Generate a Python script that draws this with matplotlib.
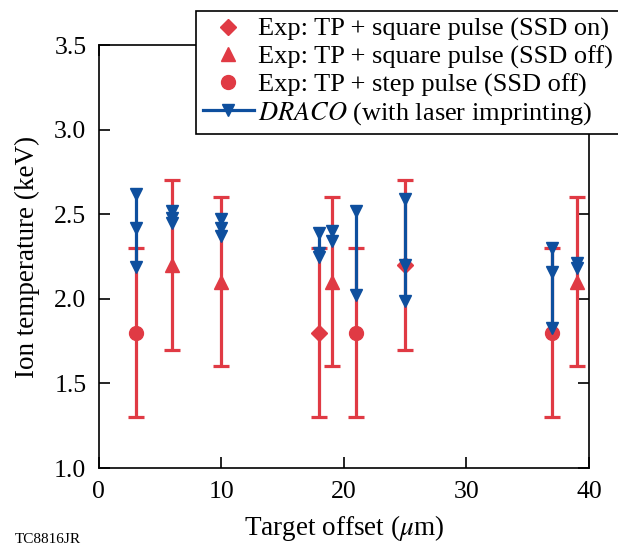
import matplotlib
matplotlib.use("Agg")
import matplotlib.pyplot as plt
from matplotlib.lines import Line2D

plt.rcParams['font.family'] = ['Liberation Serif', 'DejaVu Serif']
plt.rcParams['mathtext.fontset'] = 'stix'

RED = '#e03a44'
BLUE = '#0e4f9e'

# Experimental data
sq_on_x = [18, 25]
sq_on_y = [1.8, 2.2]
sq_on_lo = [1.3, 1.7]
sq_on_hi = [2.3, 2.7]

sq_off_x = [6, 10, 19, 39]
sq_off_y = [2.2, 2.1, 2.1, 2.1]
sq_off_lo = [1.7, 1.6, 1.6, 1.6]
sq_off_hi = [2.7, 2.6, 2.6, 2.6]

step_x = [3, 21, 37]
step_y = [1.8, 1.8, 1.8]
step_lo = [1.3, 1.3, 1.3]
step_hi = [2.3, 2.3, 2.3]

# DRACO simulations (with laser imprinting)
draco_x = [3, 6, 10, 18, 19, 21, 25, 37, 39]
draco_vals = [
    [2.62, 2.42, 2.19],
    [2.52, 2.48, 2.45],
    [2.47, 2.42, 2.37],
    [2.39, 2.27, 2.25],
    [2.40, 2.34],
    [2.52, 2.02],
    [2.59, 2.20, 1.99],
    [2.30, 2.16, 1.83],
    [2.21, 2.18],
]

fig = plt.figure(figsize=(6.18, 5.47), dpi=100)
ax = fig.add_axes([0.160, 0.1444, 0.793, 0.7733])

def ebar(x, y, lo, hi, marker, ms):
    yerr = [[yy - l for yy, l in zip(y, lo)], [h - yy for yy, h in zip(y, hi)]]
    ax.errorbar(x, y, yerr=yerr, fmt=marker, color=RED, ms=ms, elinewidth=2.3,
                capsize=6, capthick=2.3, zorder=2)

ebar(sq_on_x, sq_on_y, sq_on_lo, sq_on_hi, 'D', 8)
ebar(sq_off_x, sq_off_y, sq_off_lo, sq_off_hi, '^', 10)
ebar(step_x, step_y, step_lo, step_hi, 'o', 10)

for x, vals in zip(draco_x, draco_vals):
    ax.vlines(x, min(vals), max(vals), color=BLUE, lw=2.3, zorder=3)
    ax.plot([x] * len(vals), vals, 'v', color=BLUE, ms=8, zorder=4, ls='none')

ax.set_xlim(0, 40)
ax.set_ylim(1.0, 3.5)
ax.set_xticks([0, 10, 20, 30, 40])
ax.set_yticks([1.0, 1.5, 2.0, 2.5, 3.0, 3.5])
ax.set_yticklabels(['1.0', '1.5', '2.0', '2.5', '3.0', '3.5'])
ax.tick_params(direction='in', length=8, width=1.2, labelsize=18.5, top=True, right=True)
ax.tick_params(axis='x', pad=9)
ax.tick_params(axis='y', pad=9)
for s in ax.spines.values():
    s.set_linewidth(1.2)
ax.set_xlabel(r'Target offset ($\mu$m)', fontsize=19.5, labelpad=7.5)
ax.set_ylabel('Ion temperature (keV)', fontsize=19.5, labelpad=10)

handles = [
    Line2D([], [], marker='D', color=RED, ls='none', ms=8),
    Line2D([], [], marker='^', color=RED, ls='none', ms=10),
    Line2D([], [], marker='o', color=RED, ls='none', ms=10),
    Line2D([], [], marker='v', color=BLUE, lw=2.3, ms=9),
]
labels = [
    'Exp: TP + square pulse (SSD on)',
    'Exp: TP + square pulse (SSD off)',
    'Exp: TP + step pulse (SSD off)',
    r'$\it{DRACO}$ (with laser imprinting)',
]
leg = fig.legend(handles, labels, loc='upper left', bbox_to_anchor=(0.317, 0.98),
                 bbox_transform=fig.transFigure, borderaxespad=0, fontsize=19,
                 frameon=True, fancybox=False, edgecolor='black', framealpha=1,
                 handlelength=1.95, handletextpad=0.15, labelspacing=0.14,
                 borderpad=0.25)
leg.get_frame().set_linewidth(1.2)

fig.text(0.024, 0.002, 'TC8816JR', fontsize=11, ha='left', va='bottom')

fig.savefig('out.png', dpi=100)
